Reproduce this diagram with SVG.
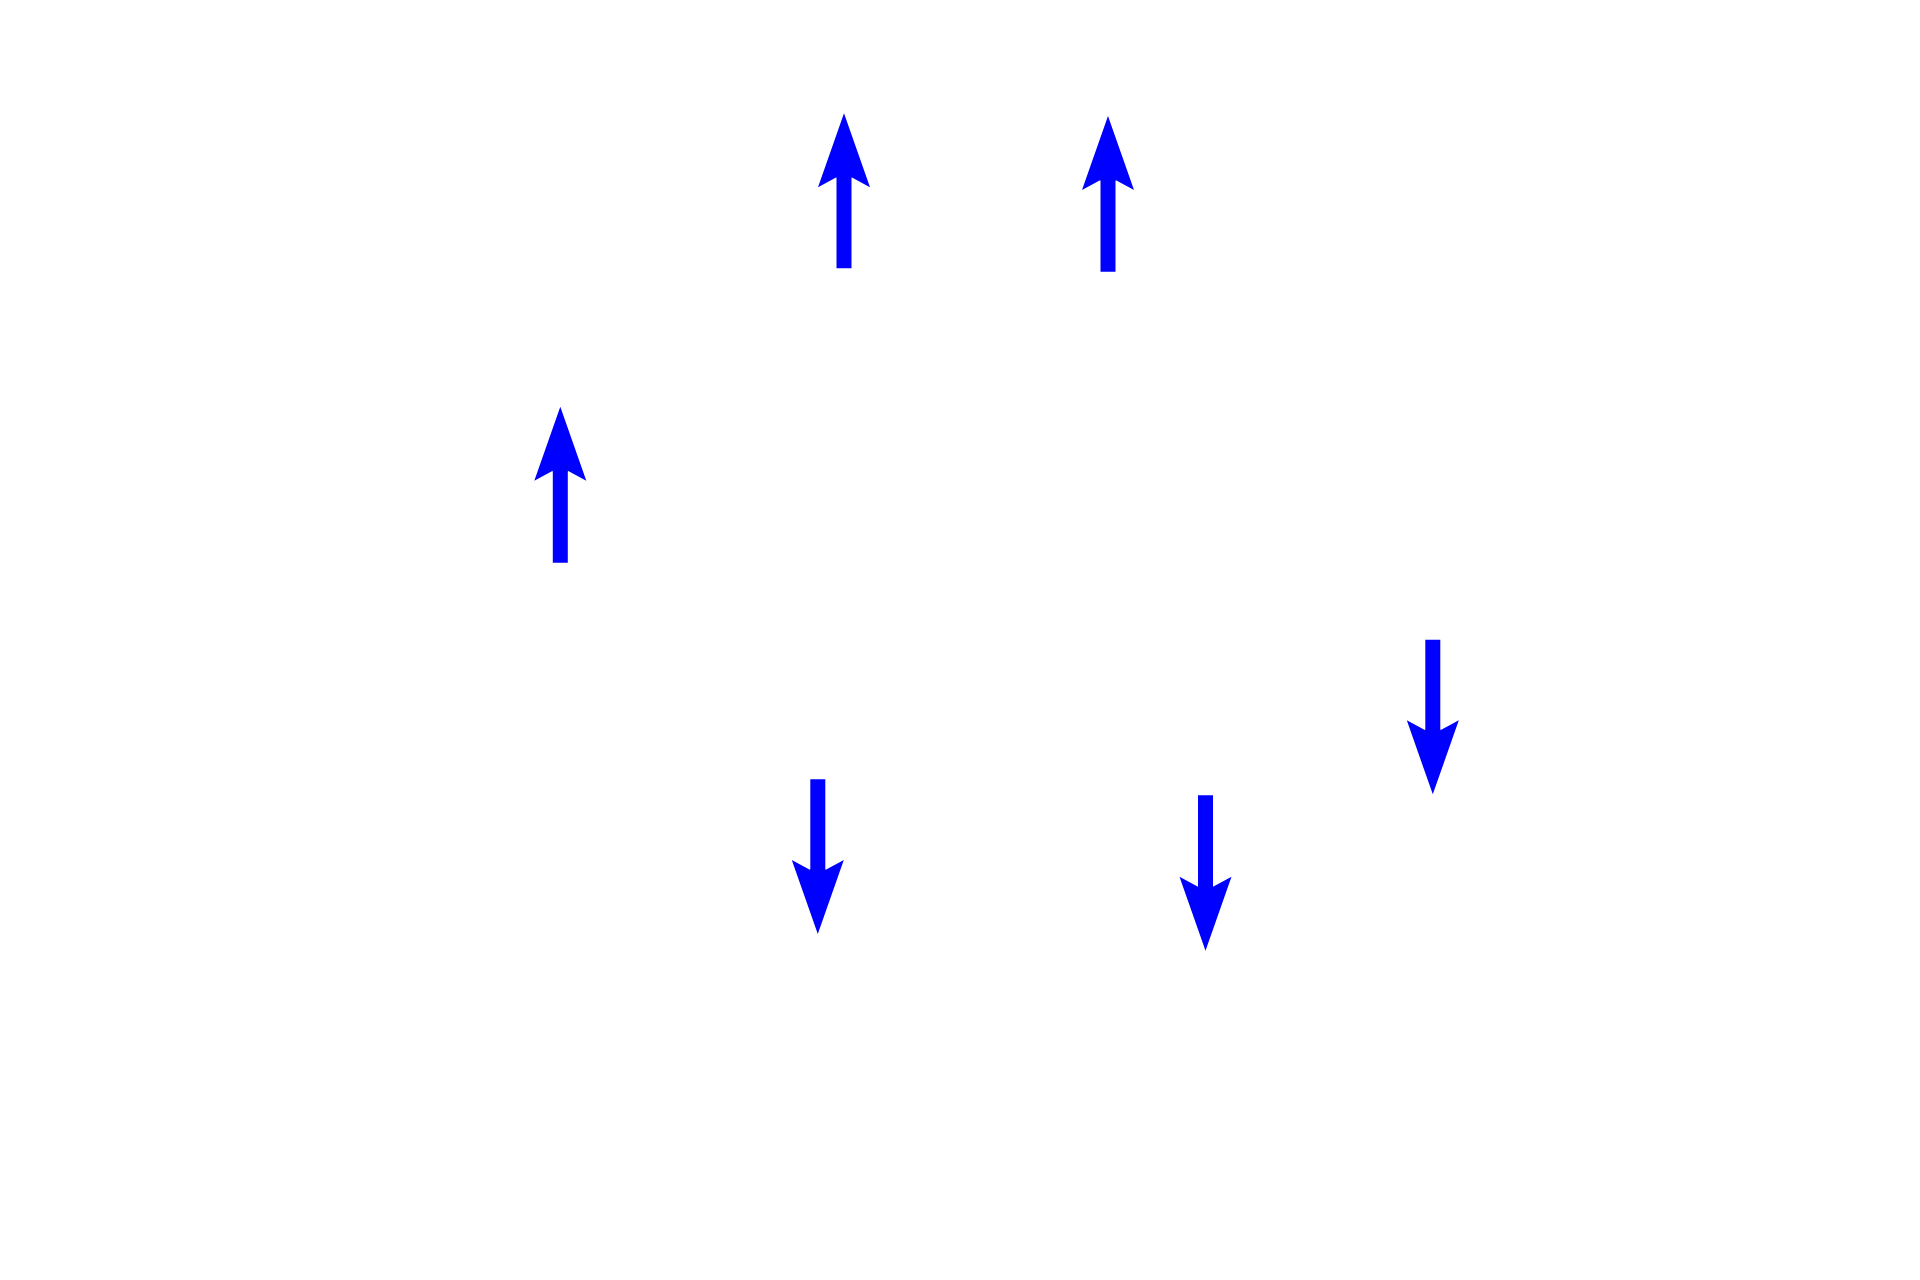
<svg xmlns="http://www.w3.org/2000/svg" width="1920" height="1280" viewBox="0 0 1920 1280">
  <style>
    .arrow { stroke: #0000ff; stroke-width: 15; fill: none; stroke-linecap: butt; marker-end: url(#head); }
  </style>
  <defs>
    <marker id="head" markerUnits="userSpaceOnUse" viewBox="-12 -28 80 56" markerWidth="80" markerHeight="56" refX="0" refY="0" orient="auto">
      <path d="M64,0 L-10,-26 L0,-7.5 L-1,-7.5 L-1,7.5 L0,7.5 L-10,26 Z" fill="#0000ff"/>
    </marker>
  </defs>
  <rect width="1920" height="1280" fill="#ffffff"/>
  <g id="connectors">
    <line class="arrow" x1="844" y1="268.3" x2="844" y2="177.3"/>
    <line class="arrow" x1="1108" y1="271.7" x2="1108" y2="180"/>
    <line class="arrow" x1="560.3" y1="562.7" x2="560.3" y2="470.7"/>
    <line class="arrow" x1="817.8" y1="779.3" x2="817.8" y2="870"/>
    <line class="arrow" x1="1205.5" y1="795.3" x2="1205.5" y2="886.7"/>
    <line class="arrow" x1="1432.8" y1="639.7" x2="1432.8" y2="730.3"/>
  </g>
</svg>
